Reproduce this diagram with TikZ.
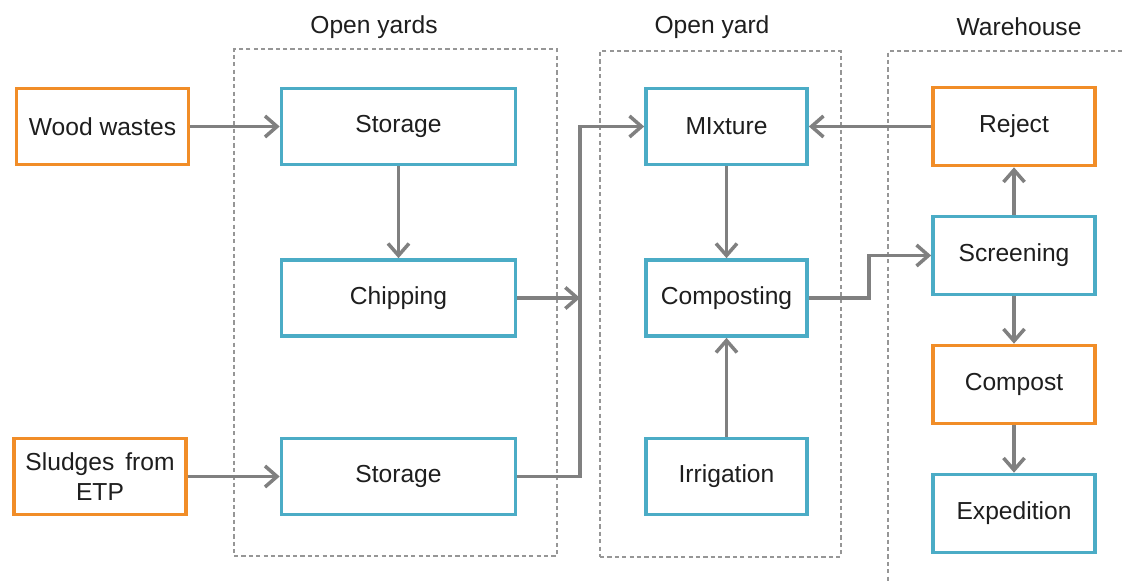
\documentclass[tikz,border=0pt]{standalone}
\usepackage{fontspec}
\setmainfont{Liberation Sans}
\usepackage{tikz}
\usetikzlibrary{arrows.meta}

\definecolor{procblue}{RGB}{75,172,198}
\definecolor{matorange}{RGB}{241,141,40}
\definecolor{flowgray}{RGB}{128,128,128}
\definecolor{zonegray}{RGB}{150,150,150}
\definecolor{textdark}{RGB}{30,30,30}

\tikzstyle{process} = [
    rectangle,
    minimum width=3.22cm,
    minimum height=1.52cm,
    line width=2.1pt,
    draw=procblue,
    text=textdark,
    align=center
]
\tikzstyle{wideprocess} = [
    process,
    minimum width=4.68cm
]
\tikzstyle{material} = [
    process,
    draw=matorange
]
\tikzstyle{zone} = [
    rectangle,
    line width=0.6pt,
    draw=zonegray,
    dash pattern=on 2.4pt off 1.8pt
]
\tikzstyle{zonetitle} = [text=textdark]
\tikzstyle{arrow} = [
    line width=2pt,
    draw=flowgray,
    -{Straight Barb[length=0.24cm,width=0.42cm]}
]

\begin{document}
\begin{tikzpicture}[font=\fontsize{14}{17}\selectfont]

\useasboundingbox [fill=white] (0,0) rectangle (22.44,11.66);

% dashed areas
\node (yards) [zone, minimum width=6.46cm, minimum height=10.14cm] at (7.91,5.61) {};
\node (yard) [zone, minimum width=4.82cm, minimum height=10.12cm] at (14.41,5.58) {};
\draw [zone] (22.6,10.64) -| (17.76,-0.1);

\node (yardsTitle) [zonetitle] at (7.48,11.12) {Open yards};
\node (yardTitle) [zonetitle] at (14.24,11.12) {Open yard};
\node (houseTitle) [zonetitle] at (20.38,11.12) {Warehouse};

% open yards
\node (storA) [wideprocess] at (7.97,9.13) {Storage};

\node (chip) [wideprocess, below of=storA, node distance=3.43cm]
{Chipping};

\node (storB) [wideprocess, below of=chip, node distance=3.57cm]
{Storage};

\node (wood) [material, minimum width=3.44cm, left of=storA, node distance=5.92cm]
{Wood wastes};

\node (sludge) [material, minimum width=3.44cm, left of=storB, node distance=5.97cm]
{Sludges\ \,from\\ETP};

% open yard
\node (mix) [process, right of=storA, node distance=6.56cm]
{MIxture};

\node (compo) [process, below of=mix, node distance=3.43cm]
{Composting};

\node (irrig) [process, below of=compo, node distance=3.57cm]
{Irrigation};

% warehouse
\node (reject) [material, minimum width=3.24cm, minimum height=1.56cm, right of=mix, node distance=5.75cm]
{Reject};

\node (screen) [process, minimum width=3.24cm, minimum height=1.56cm, below of=reject, node distance=2.58cm]
{Screening};

\node (compost) [material, minimum width=3.24cm, minimum height=1.56cm, below of=screen, node distance=2.58cm]
{Compost};

\node (exped) [process, minimum width=3.24cm, minimum height=1.56cm, below of=compost, node distance=2.58cm]
{Expedition};

\coordinate (merge) at (11.6,5.7);
\coordinate (bend) at (17.38,5.7);

\draw [arrow] (wood) -- (storA);
\draw [arrow] (storA) -- (chip);
\draw [arrow] (sludge) -- (storB);
\draw [arrow] (chip.east) -- (chip.east -| merge);
\draw [arrow] (storB.east) -- (storB.east -| merge) |- (mix.west);
\draw [arrow] (mix) -- (compo);
\draw [arrow] (irrig) -- (compo);
\draw [arrow] (reject) -- (mix);
\draw [arrow] (compo.east) -- (compo.east -| bend) |- (screen.west);
\draw [arrow] (screen) -- (reject);
\draw [arrow] (screen) -- (compost);
\draw [arrow] (compost) -- (exped);

\end{tikzpicture}
\end{document}
